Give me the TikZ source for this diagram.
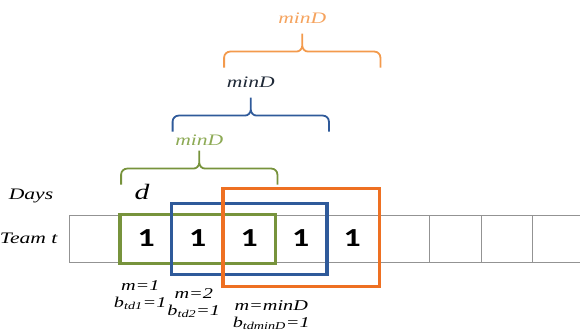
\documentclass[tikz,border=0pt]{standalone}
\usepackage{fontspec}
\setmainfont{Liberation Serif}
\newfontfamily\itfont{Liberation Serif}[FakeStretch=1.35]
\newfontfamily\numfont{Carlito}[FakeStretch=1.3]
\usepackage{tikz}
\usetikzlibrary{calc,positioning}
\definecolor{gbox}{HTML}{77933C}
\definecolor{glab}{HTML}{8DAA55}
\definecolor{bbox}{HTML}{2F5A9A}
\definecolor{blab}{HTML}{1F2937}
\definecolor{obox}{HTML}{EE7022}
\definecolor{obr}{HTML}{F39A4C}
\definecolor{olab}{HTML}{F5A35E}

\begin{document}
\begin{tikzpicture}[x=1pt,y=-1pt,
cell/.style={draw=gray!85,line width=0.8pt,minimum width=51.5pt,minimum height=47pt,inner sep=0pt,font=\numfont\bfseries\fontsize{26}{26}\selectfont},
win/.style={line width=3.5pt},
brc/.style={line width=1.8pt,rounded corners=6pt},
lbl/.style={font=\itfont\itshape\fontsize{16}{17}\selectfont,align=center,inner sep=0pt},
stk/.style={lbl,font=\itfont\itshape\fontsize{15}{17}\selectfont}]
\useasboundingbox(0,0)rectangle(580,336);
\clip(0,0)rectangle(580,336);
\foreach \v [count=\i from 0] in {{},1,1,1,1,1,{},{},{},{}}
  \node[cell](c\i)at(94.75+51.5*\i,238.5){\v};
\node[lbl](days)at(31,196){Days};
\node[lbl,left=11pt of c0](team){Team t};
\node[lbl,font=\itfont\itshape\fontsize{22}{22}\selectfont](d)at(142,192){d};
\draw[win,gbox](c1.north west)rectangle([yshift=-1pt]c3.south east);
\draw[win,bbox]([yshift=11pt]c2.north west)rectangle([yshift=-12pt]c4.south east);
\draw[win,obox]([yshift=26pt]c3.north west)rectangle([xshift=1pt,yshift=-24pt]c5.south east);
\foreach \a/\b/\h/\bc/\lc/\n/\s in {1/3/30/gbox/glab/g/5,2/4/83/bbox/blab/b/10,3/5/147/obr/olab/o/10}{
  \coordinate(\n L)at([xshift=1pt,yshift=\h pt]c\a.north west);
  \coordinate(\n R)at([xshift=2pt,yshift=\h pt]c\b.north east);
  \coordinate(\n M)at($(\n L)!.5!(\n R)+(0,-16)$);
  \coordinate(\n T)at($(\n M)+(0,-18)$);
  \draw[brc,\bc](\n L)|-(\n M)--(\n T)(\n R)|-(\n M)--(\n T);
  \node[lbl,\lc,above=\s pt of \n T](\n D){minD};
}
\node[stk,below=18pt of c1,xshift=-6pt](m1){m=1\\b\textsubscript{td1}=1};
\node[stk,below=26pt of c2,xshift=-4pt](m2){m=2\\b\textsubscript{td2}=1};
\node[stk,below=38pt of c3,xshift=22pt](m3){m=minD\\b\textsubscript{tdminD}=1};
\end{tikzpicture}
\end{document}
